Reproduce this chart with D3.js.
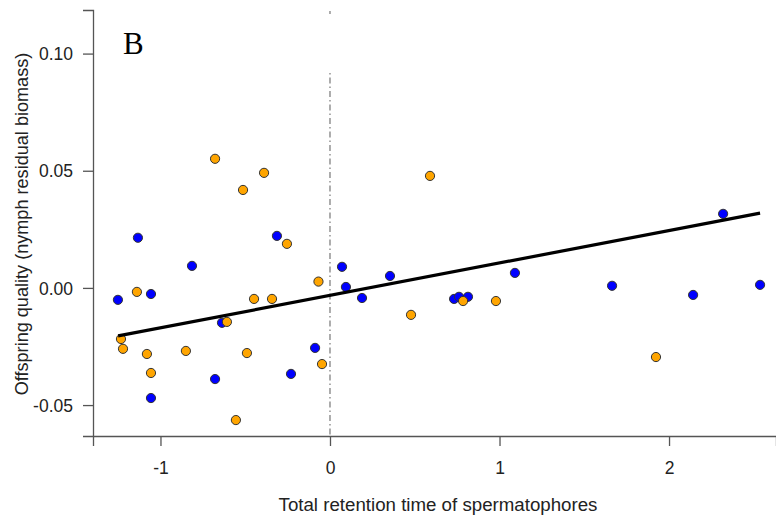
<!DOCTYPE html>
<html>
<head>
<meta charset="utf-8">
<script src="https://cdn.jsdelivr.net/npm/d3@7"></script>
<style>
  body { margin: 0; background: #fff; }
  svg { display: block; font-family: "Liberation Sans", Arial, sans-serif; }
</style>
</head>
<body>
<svg id="chart" width="776" height="519"></svg>
<script>
// retention time (x) vs nymph residual biomass (y), two groups
var blueX = [-1.133, -0.313, -0.814, 0.071, -1.251, -1.056, -0.637, -0.678, -0.230, -1.056,
             0.094, 0.354, 0.189, 0.732, 0.761, 0.814, 1.091, -0.088, 2.319, 1.664, 2.142, 2.537];
var blueY = [0.0214, 0.0222, 0.0094, 0.0090, -0.0051, -0.0026, -0.0149, -0.0389, -0.0367, -0.0470,
             0.0004, 0.0051, -0.0043, -0.0047, -0.0038, -0.0038, 0.0064, -0.0256, 0.0316, 0.0009, -0.0030, 0.0013];
var orangeX = [-0.678, -0.513, -0.389, -0.254, -0.068, -1.139, -0.448, -0.342, -0.608, -1.233, -1.221,
               -1.080, -0.850, -0.490, -1.056, -0.555, 0.785, 0.979, 0.478, -0.047, 0.590, 1.923];
var orangeY = [0.0551, 0.0418, 0.0491, 0.0188, 0.0027, -0.0017, -0.0047, -0.0047, -0.0145, -0.0218, -0.0260,
               -0.0282, -0.0269, -0.0278, -0.0363, -0.0564, -0.0056, -0.0056, -0.0115, -0.0325, 0.0478, -0.0295];
// fitted line
var fitX = [-1.25, 2.537];
var fitY = [-0.0205, 0.0319];
var xTicks = [-1, 0, 1, 2];
var yTicks = [-0.05, 0, 0.05, 0.10];

var svg = d3.select("#chart");
var x = d3.scaleLinear().domain([-1.398, 2.631]).range([93, 776]);
var y = d3.scaleLinear().domain([-0.0632, 0.1186]).range([436, 10]);

// R style: plain hyphen for negatives
var fx = function (d) { return d3.format("d")(d).replace("\u2212", "-"); };
var fy = function (d) { return d3.format(".2f")(d).replace("\u2212", "-"); };

// axes
var xAxis = svg.append("g").attr("transform", "translate(0,436)")
  .call(d3.axisBottom(x).tickValues(xTicks).tickFormat(fx).tickSize(10).tickPadding(16));
var yAxis = svg.append("g").attr("transform", "translate(93,0)")
  .call(d3.axisLeft(y).tickValues(yTicks).tickFormat(fy).tickSize(10).tickPadding(10));
[xAxis, yAxis].forEach(function (g) {
  g.select(".domain").attr("stroke", "#555").attr("stroke-width", 1.3);
  g.selectAll(".tick line").attr("stroke", "#555").attr("stroke-width", 1.3);
  g.selectAll(".tick text").attr("fill", "#222").style("font-size", "17.5px")
    .style("font-family", "Liberation Sans, Arial, sans-serif");
});
yAxis.selectAll(".tick text").attr("dy", "0.35em");

// vertical reference line at 0
svg.append("line")
  .attr("x1", x(0)).attr("x2", x(0))
  .attr("y1", y(0.0917)).attr("y2", 436)
  .attr("stroke", "#777").attr("stroke-width", 1.2)
  .attr("stroke-dasharray", "1.5,3,6,3");
svg.append("line")
  .attr("x1", x(0)).attr("x2", x(0))
  .attr("y1", 11).attr("y2", 14)
  .attr("stroke", "#777").attr("stroke-width", 1.2);

// points
function dots(xs, ys, col) {
  svg.append("g").selectAll("circle")
    .data(xs.map(function (d, i) { return [d, ys[i]]; }))
    .enter().append("circle")
    .attr("cx", function (d) { return x(d[0]); })
    .attr("cy", function (d) { return y(d[1]); })
    .attr("r", 4.6)
    .attr("fill", col)
    .attr("stroke", "#333")
    .attr("stroke-width", 1);
}
dots(blueX, blueY, "#0000FF");
dots(orangeX, orangeY, "#FFA500");

// regression line
svg.append("path")
  .datum(fitX.map(function (d, i) { return [d, fitY[i]]; }))
  .attr("d", d3.line().x(function (d) { return x(d[0]); }).y(function (d) { return y(d[1]); }))
  .attr("stroke", "#000").attr("stroke-width", 3.2).attr("fill", "none");

// labels
svg.append("text")
  .attr("x", 438).attr("y", 511)
  .attr("text-anchor", "middle")
  .style("font-size", "18.7px").attr("fill", "#222")
  .text("Total retention time of spermatophores");
svg.append("text")
  .attr("transform", "translate(28,224) rotate(-90)")
  .attr("text-anchor", "middle")
  .style("font-size", "18.1px").attr("fill", "#222")
  .text("Offspring quality (nymph residual biomass)");
svg.append("text")
  .attr("x", 123).attr("y", 54)
  .style("font-family", "Liberation Serif, Times New Roman, serif")
  .style("font-size", "31px").attr("fill", "#000")
  .text("B");
</script>
</body>
</html>
